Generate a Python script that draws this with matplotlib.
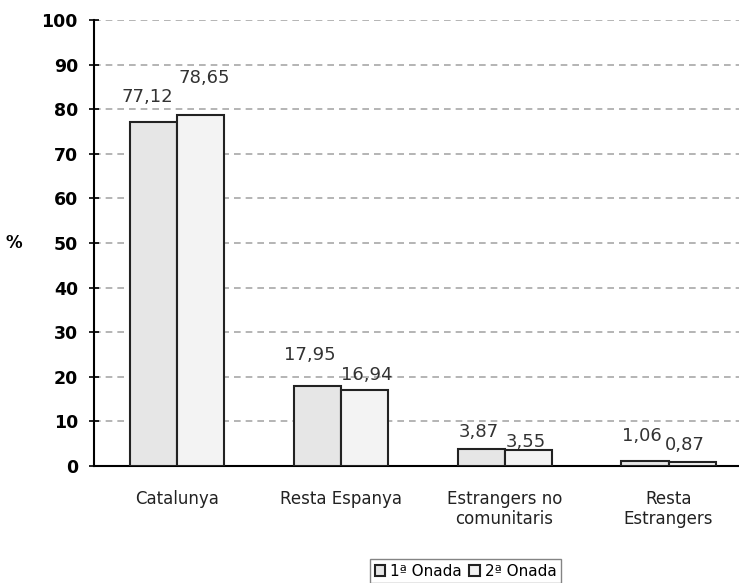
import matplotlib.pyplot as plt
import numpy as np

categories = ["Catalunya", "Resta Espanya", "Estrangers no\ncomunitaris", "Resta\nEstrangers"]
onada1 = [77.12, 17.95, 3.87, 1.06]
onada2 = [78.65, 16.94, 3.55, 0.87]
series_names = ["1ª Onada", "2ª Onada"]

# label offsets in points (dx, dy), as placed in the original
offs1 = [(-4, 18), (-5, 22), (-2, 12), (-2, 18)]
offs2 = [(3, 27), (2, 11), (-2, 6), (-5, 12)]

fig = plt.figure(figsize=(7.39, 5.83), dpi=100)
ax = fig.add_axes([0.127, 0.2007, 0.873, 0.765])

x = np.arange(len(categories))
w = 0.287
b1 = ax.bar(x - w / 2, onada1, w, color="#e6e6e6", edgecolor="#222222", linewidth=1.5, label=series_names[0], zorder=3)
b2 = ax.bar(x + w / 2, onada2, w, color="#f3f3f3", edgecolor="#222222", linewidth=1.5, label=series_names[1], zorder=3)

def fmt(v):
    return f"{v:.2f}".replace(".", ",")

for bars, vals, offs in [(b1, onada1, offs1), (b2, onada2, offs2)]:
    for r, v, o in zip(bars, vals, offs):
        ax.annotate(fmt(v), (r.get_x() + r.get_width() / 2, v), xytext=o, textcoords="offset points",
                    ha="center", va="center", fontsize=13, color="#333333", zorder=4)

ax.set_ylim(0, 100)
ax.set_xlim(-0.506, 3.43)
ax.set_yticks(np.arange(0, 101, 10))
ax.set_xticks(x)
ax.set_xticklabels(categories, fontsize=12, color="#222222")
for t in ax.get_yticklabels():
    t.set_fontweight("bold")
    t.set_fontsize(12.5)
ax.yaxis.grid(True, linestyle=(0, (4, 3)), color="#a8a8a8", linewidth=1.2, zorder=0)
ax.spines["top"].set_visible(False)
ax.spines["right"].set_visible(False)
ax.spines["left"].set_linewidth(1.5)
ax.spines["bottom"].set_linewidth(1.5)
ax.tick_params(axis="x", length=0, pad=17)
ax.tick_params(axis="y", length=7, width=1.2, direction="inout", pad=8)
ax.set_ylabel("%", rotation=0, fontsize=12, fontweight="bold", labelpad=20, va="center")

leg = fig.legend(loc="center", bbox_to_anchor=(0.63, 0.02), ncol=2, fontsize=11,
                 frameon=True, fancybox=False, edgecolor="#666666", handlelength=0.7,
                 handleheight=0.7, handletextpad=0.3, columnspacing=0.5, borderpad=0.3)

fig.savefig("out.png", dpi=100)
